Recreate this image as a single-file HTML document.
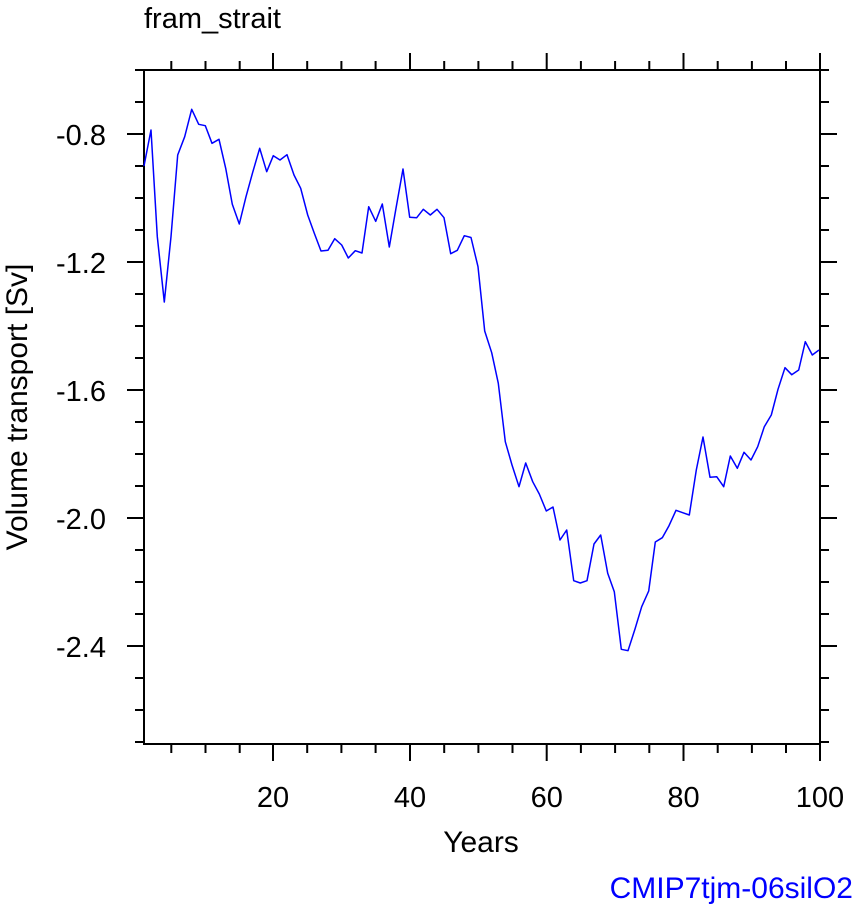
<!DOCTYPE html>
<html><head><meta charset="utf-8"><style>
html,body{margin:0;padding:0;background:#fff;}
svg{display:block;font-family:"Liberation Sans",sans-serif;}
</style></head><body>
<svg width="858" height="912" viewBox="0 0 858 912" xmlns="http://www.w3.org/2000/svg">
<text x="144" y="28" font-size="29" fill="#000">fram_strait</text>
<rect x="144" y="70" width="676" height="674" fill="none" stroke="#000" stroke-width="2"/>
<g stroke="#000" stroke-width="2">
<path d="M273,744v17M410,744v17M546.7,744v17M683.5,744v17M820,744v17M273,70v-17M410,70v-17M546.7,70v-17M683.5,70v-17M820,70v-17"/>
<path d="M171.3,744v9M205.5,744v9M239.7,744v9M307.2,744v9M341.4,744v9M375.6,744v9M444.2,744v9M478.4,744v9M512.5,744v9M580.9,744v9M615.1,744v9M649.3,744v9M717.7,744v9M751.9,744v9M786,744v9
M171.3,70v-9M205.5,70v-9M239.7,70v-9M307.2,70v-9M341.4,70v-9M375.6,70v-9M444.2,70v-9M478.4,70v-9M512.5,70v-9M580.9,70v-9M615.1,70v-9M649.3,70v-9M717.7,70v-9M751.9,70v-9M786,70v-9"/>
<path d="M144,134h-17M144,262h-17M144,390h-17M144,518h-17M144,646h-17M820,134h17M820,262h17M820,390h17M820,518h17M820,646h17"/>
<path d="M144,70h-9M144,102h-9M144,166h-9M144,198h-9M144,230h-9M144,294h-9M144,326h-9M144,358h-9M144,422h-9M144,454h-9M144,486h-9M144,550h-9M144,582h-9M144,614h-9M144,678h-9M144,710h-9M144,742h-9
M820,70h9M820,102h9M820,166h9M820,198h9M820,230h9M820,294h9M820,326h9M820,358h9M820,422h9M820,454h9M820,486h9M820,550h9M820,582h9M820,614h9M820,678h9M820,710h9M820,742h9"/>
</g>
<g font-size="29" fill="#000" text-anchor="end">
<text x="106" y="145">-0.8</text>
<text x="106" y="273">-1.2</text>
<text x="106" y="401">-1.6</text>
<text x="106" y="529">-2.0</text>
<text x="106" y="657">-2.4</text>
</g>
<g font-size="29" fill="#000" text-anchor="middle">
<text x="273" y="807">20</text>
<text x="410" y="807">40</text>
<text x="546.7" y="807">60</text>
<text x="683.5" y="807">80</text>
<text x="820" y="807">100</text>
<text x="481" y="852" font-size="30">Years</text>
<text transform="translate(27,407) rotate(-90)" font-size="30">Volume transport [Sv]</text>
</g>
<text x="853" y="898" font-size="30" fill="#0000ff" text-anchor="end">CMIP7tjm-06silO2</text>
<polyline fill="none" stroke="#0000ff" stroke-width="1.5" stroke-linejoin="round" points="
144,166 151,130 157.3,236.7 164.3,302 171,236.7 177.7,155 184.7,136.7 191.7,109.3 198.7,124.3 205.3,125.7 212,143.3 219,139.3 225.7,168.3 232.3,204.3 239.3,224 246,196.7 252.7,172.3 259.7,148.3 266.7,171.7 273.3,155.7 280,160 287,154.7 294,175 300.7,188.3 307.7,215 314.3,233.3 321,251 328,250.3 334.7,238.7 341.7,245 348.3,258 355.3,250.7 362,253 368.7,206.7 375.7,221.3 382.3,204 389.3,247 396,208.3 403,169 409.7,217.3 416.7,217.7 423.3,209.3 430.3,215 437,209.3 444,217.7 450.7,253.7 457.3,250.3 464.3,235.7 471,237.5 478,266.7 484.7,331 491.7,352.7 498.3,383.3 505.3,441.7 512,465 519,486.7 525.7,463 532.7,481.7 539.3,494 546.3,511 553,507 560,540 566.7,530 573.7,580.7 580.3,583 587,580.7 594,544 600.7,535 607.7,573.3 614.3,591.7 621.3,649.3 628,650.7 635,629 641.7,606.7 648.7,591 655.3,542 662.3,537.7 669,525.7 676,510.3 682.7,512.7 689.3,515 696.3,470 703,437 710,477.3 716.7,476.7 723.7,486.7 730.3,456 737.3,468.3 744,452.3 751,460 757.7,446.7 764.3,426.7 771.3,415 778,389.3 785,367.7 791.7,374.7 798.7,370 805.3,341.7 812.3,355 819,350"/>
</svg>
</body></html>
